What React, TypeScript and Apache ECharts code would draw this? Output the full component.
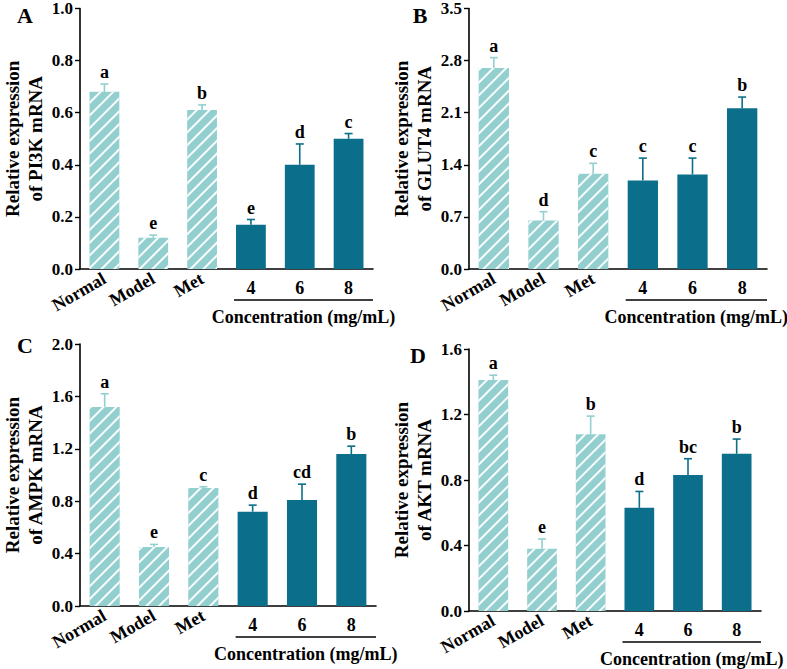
import React, { useEffect, useRef } from "react";
import * as echarts from "echarts";

const categories = ["Normal", "Model", "Met", "4", "6", "8"];

const pi3kMean = [0.68, 0.12, 0.61, 0.17, 0.4, 0.5];
const pi3kErr = [0.03, 0.01, 0.02, 0.02, 0.08, 0.02];
const pi3kLetters = ["a", "e", "b", "e", "d", "c"];

const glut4Mean = [2.7, 0.65, 1.28, 1.19, 1.27, 2.16];
const glut4Err = [0.14, 0.12, 0.14, 0.3, 0.22, 0.15];
const glut4Letters = ["a", "d", "c", "c", "c", "b"];

const ampkMean = [1.52, 0.45, 0.9, 0.72, 0.81, 1.16];
const ampkErr = [0.1, 0.02, 0.01, 0.05, 0.12, 0.06];
const ampkLetters = ["a", "e", "c", "d", "cd", "b"];

const aktMean = [1.41, 0.38, 1.08, 0.63, 0.83, 0.96];
const aktErr = [0.03, 0.06, 0.11, 0.1, 0.1, 0.09];
const aktLetters = ["a", "e", "b", "d", "bc", "b"];

const yMaxes = [1.0, 3.5, 2.0, 1.6];
const yIntervals = [0.2, 0.7, 0.4, 0.4];
const yTitles = [
  "Relative expression\nof PI3K mRNA",
  "Relative expression\nof GLUT4 mRNA",
  "Relative expression\nof AMPK mRNA",
  "Relative expression\nof AKT mRNA",
];
const panelLetters = ["A", "B", "C", "D"];
const concentrationLabel = "Concentration (mg/mL)";

const FONT = "'Liberation Serif', 'Times New Roman', serif";
const LIGHT = "#93CFCF";
const DARK = "#0B6E8A";

const grids = [
  { left: 77, top: 7, width: 296, height: 262 },
  { left: 469, top: 7, width: 298, height: 262 },
  { left: 79, top: 344, width: 297, height: 262 },
  { left: 469, top: 349, width: 292, height: 262 },
];
const panelLetterPos = [
  [25, 15],
  [420, 15],
  [25, 345],
  [418, 355],
];

const panels = [
  { mean: pi3kMean, err: pi3kErr, letters: pi3kLetters },
  { mean: glut4Mean, err: glut4Err, letters: glut4Letters },
  { mean: ampkMean, err: ampkErr, letters: ampkLetters },
  { mean: aktMean, err: aktErr, letters: aktLetters },
];

export default function App() {
  const ref = useRef<HTMLDivElement>(null);
  useEffect(() => {
    if (!ref.current) return;
    const chart = echarts.init(ref.current, undefined, { renderer: "svg" });

    const xAxis: any[] = [];
    const yAxis: any[] = [];
    const series: any[] = [];

    panels.forEach((p, gi) => {
      xAxis.push({
        type: "category",
        gridIndex: gi,
        data: categories,
        axisLine: { lineStyle: { color: "#000", width: 1.6 } },
        axisTick: { alignWithLabel: true, length: 5, lineStyle: { color: "#000", width: 1.4 } },
        axisLabel: {
          rotate: 30,
          interval: 0,
          margin: 8,
          fontFamily: FONT,
          fontWeight: "bold",
          fontSize: 18,
          color: "#000",
          formatter: (v: string, i: number) => (i < 3 ? v : ""),
        },
      });
      xAxis.push({
        type: "category",
        gridIndex: gi,
        data: categories,
        position: "bottom",
        axisLine: { show: false },
        axisTick: { show: false },
        axisLabel: {
          rotate: 0,
          interval: 0,
          margin: 10,
          fontFamily: FONT,
          fontWeight: "bold",
          fontSize: 18,
          color: "#000",
          formatter: (v: string, i: number) => (i >= 3 ? v : ""),
        },
      });
      yAxis.push({
        type: "value",
        gridIndex: gi,
        min: 0,
        max: yMaxes[gi],
        interval: yIntervals[gi],
        splitLine: { show: false },
        axisLine: { show: true, lineStyle: { color: "#000", width: 1.6 } },
        axisTick: { show: true, length: 5, lineStyle: { color: "#000", width: 1.4 } },
        axisLabel: {
          margin: 7,
          fontFamily: FONT,
          fontWeight: "bold",
          fontSize: 17,
          color: "#000",
          formatter: (v: number) => v.toFixed(1),
        },
        name: yTitles[gi],
        nameLocation: "middle",
        nameRotate: 90,
        nameGap: 33,
        nameTextStyle: {
          fontFamily: FONT,
          fontWeight: "bold",
          fontSize: 19,
          lineHeight: 23,
          color: "#000",
        },
      });

      series.push({
        type: "bar",
        xAxisIndex: gi * 2,
        yAxisIndex: gi,
        barWidth: "61%",
        data: p.mean.map((v, i) =>
          i < 3
            ? {
                value: v,
                itemStyle: {
                  color: LIGHT,
                  decal: {
                    symbol: "rect",
                    symbolSize: 1,
                    dashArrayX: [1, 0],
                    dashArrayY: [1.8, 7],
                    rotation: -Math.PI / 4,
                    color: "rgba(255,255,255,0.95)",
                  },
                },
              }
            : { value: v, itemStyle: { color: DARK } }
        ),
      });

      series.push({
        type: "custom",
        xAxisIndex: gi * 2,
        yAxisIndex: gi,
        z: 5,
        data: p.mean.map((v, i) => [i, v, p.err[i]]),
        renderItem: (params: any, api: any) => {
          const idx = params.dataIndex;
          const x = api.value(0);
          const m = api.value(1);
          const e = api.value(2);
          const base = api.coord([x, m]);
          const top = api.coord([x, m + e]);
          const color = idx < 3 ? LIGHT : DARK;
          const ls = { stroke: color, lineWidth: 1.6 };
          return {
            type: "group",
            children: [
              { type: "line", shape: { x1: base[0], y1: base[1], x2: top[0], y2: top[1] }, style: ls },
              { type: "line", shape: { x1: top[0] - 4, y1: top[1], x2: top[0] + 4, y2: top[1] }, style: ls },
              {
                type: "text",
                x: top[0],
                y: top[1] - 3,
                style: {
                  text: p.letters[idx],
                  fill: "#000",
                  fontFamily: FONT,
                  fontWeight: "bold",
                  fontSize: 18,
                  align: "center",
                  verticalAlign: "bottom",
                },
              },
            ],
          };
        },
      });

      series.push({
        type: "custom",
        xAxisIndex: gi * 2,
        yAxisIndex: gi,
        data: [[3, 0]],
        renderItem: (params: any, api: any) => {
          const start = api.coord([3, 0]);
          const end = api.coord([5, 0]);
          const band = api.size([1, 0])[0];
          const x1 = start[0] - band * 0.305 - 2;
          const x2 = end[0] + band / 2;
          const y = start[1] + 31;
          return {
            type: "group",
            children: [
              { type: "line", shape: { x1, y1: y, x2, y2: y }, style: { stroke: "#000", lineWidth: 1.4 } },
              {
                type: "text",
                x: (x1 + x2) / 2,
                y: y + 17,
                style: {
                  text: concentrationLabel,
                  fill: "#000",
                  fontFamily: FONT,
                  fontWeight: "bold",
                  fontSize: 18,
                  align: "center",
                  verticalAlign: "middle",
                },
              },
            ],
          };
        },
      });
    });

    chart.setOption({
      animation: false,
      backgroundColor: "#fff",
      grid: grids,
      xAxis,
      yAxis,
      series,
      graphic: panelLetters.map((t, i) => ({
        type: "text",
        x: panelLetterPos[i][0],
        y: panelLetterPos[i][1],
        style: {
          text: t,
          fill: "#000",
          fontFamily: FONT,
          fontWeight: "bold",
          fontSize: 22,
          align: "center",
          verticalAlign: "middle",
        },
      })),
    });
    return () => chart.dispose();
  }, []);
  return <div ref={ref} style={{ width: 787, height: 669, position: "absolute", left: 0, top: 0 }} />;
}
